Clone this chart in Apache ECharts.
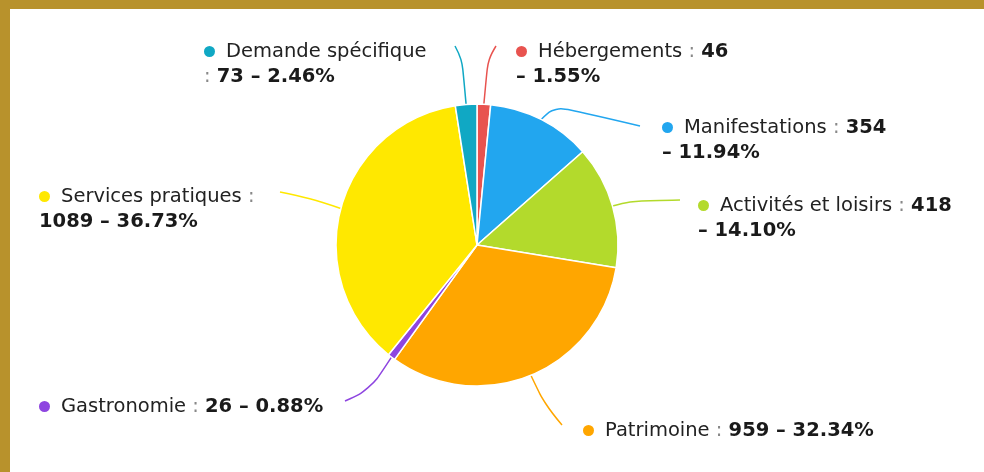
<!DOCTYPE html>
<html>

<head>
    <meta charset="utf-8">
</head>

<body style="margin: 0; background: #fff">
    <div style="border-top: 9px solid #b8922c; border-left: 10px solid #b8922c; width: 974px; height: 463px">
        <div id="container" style="width: 974px; height: 463px"></div>
    </div>
    <script type="text/javascript" src="https://cdn.jsdelivr.net/npm/echarts@6/dist/echarts.min.js"></script>
    <script>
        // data
        var names = ['Hébergements', 'Manifestations', 'Activités et loisirs', 'Patrimoine', 'Gastronomie', 'Services pratiques', 'Demande spécifique']
        var values = [46, 354, 418, 959, 26, 1089, 73]
        var colors = ['#e8534f', '#22a6ef', '#b3da2c', '#ffa600', '#8e45e0', '#ffe800', '#10a8c4']
        // where each label wraps onto its second line
        var wrapAt = ['value', 'value', 'value', 'none', 'none', 'colon', 'name']

        // label placement (top-left of label box) and line bend/end points, chart pixels
        var labelAt = [[506, 30], [652, 106], [688, 184], [573, 409], [29, 385], [29, 175], [194, 30]]
        var lineMid = [[478, 50], [545, 97], [620, 192], [535, 396], [360, 381], [300, 189], [452, 50]]
        var lineEnd = [[486, 37], [630, 117], [670, 191], [552, 416], [335, 392], [270, 183], [445, 37]]

        var font = 'DejaVu Sans'
        var rich = {
            n: { fontSize: 19.5, color: '#222', fontFamily: font, lineHeight: 25 },
            c: { fontSize: 19.5, color: '#888', fontFamily: font, lineHeight: 25 },
            b: { fontSize: 19.5, color: '#1a1a1a', fontWeight: 'bold', fontFamily: font, lineHeight: 25 },
            g: { width: 11 }
        }
        colors.forEach(function (c, i) {
            rich['d' + i] = { width: 11, height: 11, borderRadius: 6, backgroundColor: c }
        })

        var seriesData = names.map(function (n, i) {
            return { name: n, value: values[i], itemStyle: { color: colors[i] } }
        })

        var dom = document.getElementById('container')
        var myChart = echarts.init(dom)
        var option = {
            animation: false,
            series: [{
                type: 'pie',
                center: [467, 236],
                radius: 141,
                startAngle: 90,
                clockwise: true,
                data: seriesData,
                itemStyle: {
                    borderColor: '#fff',
                    borderWidth: 1.5
                },
                label: {
                    show: true,
                    position: 'outside',
                    rich: rich,
                    formatter: function (p) {
                        var i = p.dataIndex
                        var pct = (p.value / values.reduce(function (a, b) { return a + b }, 0) * 100).toFixed(2)
                        var dot = '{d' + i + '|}{g|}'
                        var nm = '{n|' + p.name + '}'
                        var w = wrapAt[i]
                        if (w === 'name') return dot + nm + '\n{c|: }{b|' + p.value + ' – ' + pct + '%}'
                        if (w === 'value') return dot + nm + '{c| : }{b|' + p.value + '}\n{b|– ' + pct + '%}'
                        if (w === 'colon') return dot + nm + '{c| :}\n{b|' + p.value + ' – ' + pct + '%}'
                        return dot + nm + '{c| : }{b|' + p.value + ' – ' + pct + '%}'
                    }
                },
                labelLine: {
                    show: true,
                    smooth: 0.4,
                    lineStyle: { width: 1.5 }
                },
                labelLayout: function (params) {
                    var i = params.dataIndex
                    var pts = params.labelLinePoints
                    return {
                        x: labelAt[i][0],
                        y: labelAt[i][1],
                        align: 'left',
                        verticalAlign: 'top',
                        labelLinePoints: [pts[0], lineMid[i], lineEnd[i]]
                    }
                }
            }]
        }
        myChart.setOption(option)
    </script>

</body>

</html>
